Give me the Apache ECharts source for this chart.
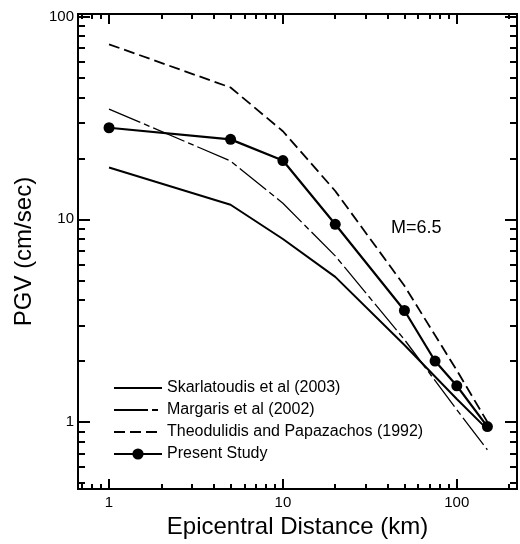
<!DOCTYPE html>
<html>
<head>
<meta charset="utf-8">
<script src="https://cdn.jsdelivr.net/npm/echarts@6/dist/echarts.min.js"></script>
<style>
  html, body { margin: 0; padding: 0; background: #fff; }
  #chart { width: 520px; height: 544px; }
</style>
</head>
<body>
<div id="chart"></div>
<script>
// distances (km)
var distSkar = [1, 5, 10, 20, 50, 100, 150];
var pgvSkar = [18, 11.8, 8.0, 5.2, 2.4, 1.3, 0.92];

var distMarg = [1, 5, 10, 20, 50, 100, 150];
var pgvMarg = [35, 19.4, 12, 6.6, 2.55, 1.15, 0.73];

var distTheo = [1, 5, 10, 20, 50, 100, 150];
var pgvTheo = [73, 44.7, 27.2, 13.8, 4.7, 1.8, 1.0];

var distPresent = [1, 5, 10, 20, 50, 75, 100, 150];
var pgvPresent = [28.3, 24.8, 19.5, 9.45, 3.55, 2.0, 1.51, 0.95];

// tick positions
var xMajor = [1, 10, 100];
var xMinor = [0.7, 0.8, 0.9, 2, 3, 4, 5, 6, 7, 8, 9, 20, 30, 40, 50, 60, 70, 80, 90, 200];
var yMajor = [1, 10, 100];
var yMinor = [0.5, 0.6, 0.7, 0.8, 0.9, 2, 3, 4, 5, 6, 7, 8, 9, 20, 30, 40, 50, 60, 70, 80, 90];

var xMin = 0.663, xMax = 222, yMin = 0.467, yMax = 103;
var font = '"Liberation Sans", Arial, Helvetica, sans-serif';

function pairs(xs, ys) {
  return xs.map(function (x, i) { return [x, ys[i]]; });
}

function xAx(pos, ticks, len, labels, extra) {
  var a = {
    type: 'log', logBase: 10, min: xMin, max: xMax, position: pos,
    axisLine: { show: true, onZero: false, lineStyle: { color: '#000', width: 2 } },
    axisTick: { show: true, inside: true, length: len, customValues: ticks, lineStyle: { color: '#000', width: 2 } },
    axisLabel: labels ? { show: true, customValues: labels, color: '#000', fontSize: 15, fontFamily: font, margin: 6 } : { show: false },
    splitLine: { show: false }
  };
  return Object.assign(a, extra || {});
}

function yAx(pos, ticks, len, labels, extra) {
  var a = {
    type: 'log', logBase: 10, min: yMin, max: yMax, position: pos,
    axisLine: { show: true, onZero: false, lineStyle: { color: '#000', width: 2 } },
    axisTick: { show: true, inside: true, length: len, customValues: ticks, lineStyle: { color: '#000', width: 2 } },
    axisLabel: labels ? { show: true, customValues: labels, color: '#000', fontSize: 15, fontFamily: font, margin: 4 } : { show: false },
    splitLine: { show: false }
  };
  return Object.assign(a, extra || {});
}

var chart = echarts.init(document.getElementById('chart'));

var noDot = { opacity: 0 };

var option = {
  animation: false,
  backgroundColor: '#fff',
  grid: { left: 78, right: 3, top: 14, bottom: 53 },
  xAxis: [
    xAx('bottom', xMajor, 10, xMajor, {
      name: 'Epicentral Distance (km)', nameLocation: 'middle', nameGap: 22,
      nameTextStyle: { color: '#000', fontSize: 24, fontFamily: font }
    }),
    xAx('bottom', xMinor, 5, null),
    xAx('top', xMajor, 10, null),
    xAx('top', xMinor, 5, null)
  ],
  yAxis: [
    yAx('left', yMajor, 12, yMajor, {
      name: 'PGV (cm/sec)', nameLocation: 'middle', nameGap: 42,
      nameTextStyle: { color: '#000', fontSize: 24, fontFamily: font }
    }),
    yAx('left', yMinor, 7, null),
    yAx('right', yMajor, 12, null),
    yAx('right', yMinor, 7, null)
  ],
  legend: {
    orient: 'vertical', left: 108, top: 375,
    itemWidth: 48, itemHeight: 14, itemGap: 6,
    textStyle: { color: '#000', fontSize: 16, fontFamily: font },
    data: [
      { name: 'Skarlatoudis et al (2003)', itemStyle: noDot },
      { name: 'Margaris et al (2002)', itemStyle: noDot },
      { name: 'Theodulidis and Papazachos (1992)', itemStyle: noDot },
      { name: 'Present Study' }
    ]
  },
  graphic: [{
    type: 'text', left: 391, top: 219,
    style: { text: 'M=6.5', fill: '#000', font: '18px ' + font }
  }],
  series: [
    {
      name: 'Skarlatoudis et al (2003)', type: 'line', symbol: 'none',
      data: pairs(distSkar, pgvSkar),
      itemStyle: { color: '#000' },
      lineStyle: { color: '#000', width: 2 }
    },
    {
      name: 'Margaris et al (2002)', type: 'line', symbol: 'none',
      data: pairs(distMarg, pgvMarg),
      itemStyle: { color: '#000' },
      lineStyle: { color: '#000', width: 1.3, type: [34, 4, 6, 4] }
    },
    {
      name: 'Theodulidis and Papazachos (1992)', type: 'line', symbol: 'none',
      data: pairs(distTheo, pgvTheo),
      itemStyle: { color: '#000' },
      lineStyle: { color: '#000', width: 1.8, type: [11, 5] }
    },
    {
      name: 'Present Study', type: 'line', symbol: 'circle', symbolSize: 11,
      data: pairs(distPresent, pgvPresent),
      itemStyle: { color: '#000' },
      lineStyle: { color: '#000', width: 2.2 }
    }
  ]
};

chart.setOption(option);
</script>
</body>
</html>
